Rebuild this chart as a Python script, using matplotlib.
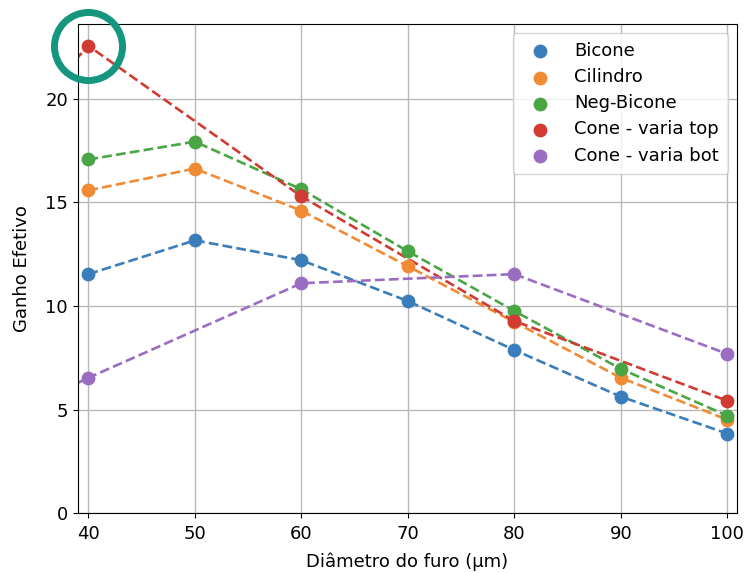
import matplotlib
matplotlib.use("Agg")
import matplotlib.pyplot as plt

# hole diameter (um)
x_full = [40, 50, 60, 70, 80, 90, 100]
bicone = [11.54, 13.17, 12.21, 10.24, 7.88, 5.63, 3.85]
cilindro = [15.58, 16.63, 14.60, 11.92, 9.23, 6.54, 4.52]
neg_bicone = [17.07, 17.93, 15.63, 12.64, 9.76, 6.97, 4.71]

# cone series were only measured every 20 um (plus one point left of the view)
x_cone = [30, 40, 60, 80, 100]
cone_top = [17.0, 22.55, 15.29, 9.28, 5.43]
cone_bot = [4.1, 6.54, 11.10, 11.54, 7.69]

series = [
    ("Bicone", x_full, bicone, "#3a7dbb"),
    ("Cilindro", x_full, cilindro, "#f08a35"),
    ("Neg-Bicone", x_full, neg_bicone, "#4aa544"),
    ("Cone - varia top", x_cone, cone_top, "#d03b34"),
    ("Cone - varia bot", x_cone, cone_bot, "#9a6dc3"),
]

plt.rcParams["font.size"] = 13

fig = plt.figure(figsize=(7.44, 5.73), dpi=100)
ax = fig.add_axes([0.1045, 0.104, 0.886, 0.854])

for name, xs, ys, c in series:
    ax.plot(xs, ys, "--", color=c, lw=1.9)
    ax.scatter(xs, ys, color=c, s=80, label=name, zorder=3)

ax.set_xlim(39, 100.9)
ax.set_ylim(0, 23.6)
ax.set_xticks([40, 50, 60, 70, 80, 90, 100])
ax.set_yticks([0, 5, 10, 15, 20])
ax.tick_params(axis="x", pad=5)
ax.grid(True, color="#b8b8b8", lw=1.0)
ax.set_axisbelow(True)
ax.set_xlabel("Diâmetro do furo (µm)", labelpad=7)
ax.set_ylabel("Ganho Efetivo", labelpad=10)
ax.legend(loc="upper right", fontsize=13, handletextpad=0.9, borderpad=0.5,
          labelspacing=0.45)

# highlight ring around the peak
ax.plot([x_cone[1]], [cone_top[1]], "o", ms=49, mfc="none", mec="#16967f",
        mew=5, clip_on=False, zorder=5)

fig.savefig("out.png", dpi=100)
